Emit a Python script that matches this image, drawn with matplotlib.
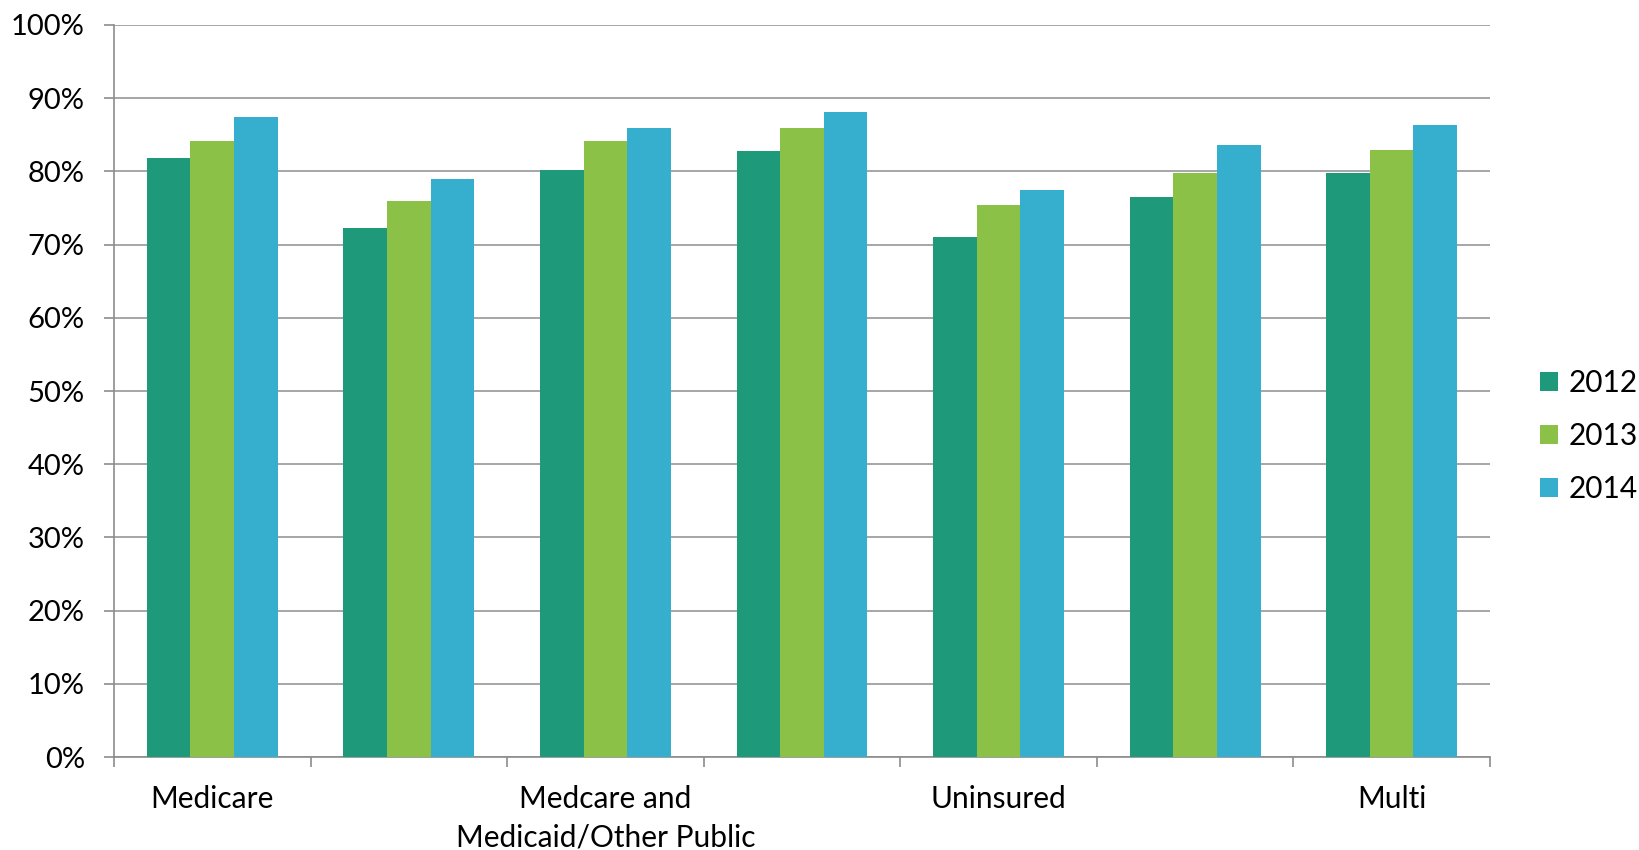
import numpy as np
import matplotlib.pyplot as plt
from matplotlib.ticker import MultipleLocator, PercentFormatter

plt.rcParams['font.family'] = ['Lato', 'DejaVu Sans']

# category labels (Excel dropped every second one for lack of space)
categories = ['Medicare', '', 'Medcare and\nMedicaid/Other Public', '', 'Uninsured', '', 'Multi']
years = ['2012', '2013', '2014']
v2012 = [81.8, 72.3, 80.2, 82.8, 71.1, 76.5, 79.8]
v2013 = [84.2, 75.9, 84.2, 85.9, 75.4, 79.8, 82.9]
v2014 = [87.4, 78.9, 85.9, 88.1, 77.4, 83.6, 86.3]
colors = ['#1e9a7a', '#8bc146', '#36aece']

fig = plt.figure(figsize=(16.4, 8.5), dpi=100)
ax = fig.add_axes([0.0695, 0.1094, 0.839, 0.8612])

x = np.arange(len(categories))
w = 0.222
for i, (vals, lab) in enumerate(zip([v2012, v2013, v2014], years)):
    ax.bar(x + (i - 1) * w, vals, width=w, color=colors[i], label=lab, zorder=3)

ax.set_xlim(-0.5, len(categories) - 0.5)
ax.set_ylim(0, 100)
ax.yaxis.set_major_locator(MultipleLocator(10))
ax.yaxis.set_major_formatter(PercentFormatter(decimals=0))
ax.grid(axis='y', color='#a6a6a6', linewidth=1.4, zorder=0)

for s in ['top', 'right']:
    ax.spines[s].set_visible(False)
for s in ['left', 'bottom']:
    ax.spines[s].set_color('#8c8c8c')
    ax.spines[s].set_linewidth(1.2)

ax.set_xticks(x)
ax.set_xticklabels(categories, fontsize=21.5, linespacing=1.45, va='top')
ax.set_xticks(np.arange(len(categories) + 1) - 0.5, minor=True)
ax.tick_params(axis='x', which='major', length=0, pad=20)
ax.tick_params(axis='x', which='minor', length=7, width=1.2, color='#8c8c8c')
ax.tick_params(axis='y', length=7, width=1.2, color='#8c8c8c', labelsize=21, pad=14)

leg = fig.legend(loc='center left', bbox_to_anchor=(0.939, 0.487), frameon=False,
                 fontsize=21.5, handlelength=0.6, handleheight=0.6,
                 handletextpad=0.35, labelspacing=0.85,
                 borderaxespad=0, borderpad=0)

fig.savefig('out.png', dpi=100)
